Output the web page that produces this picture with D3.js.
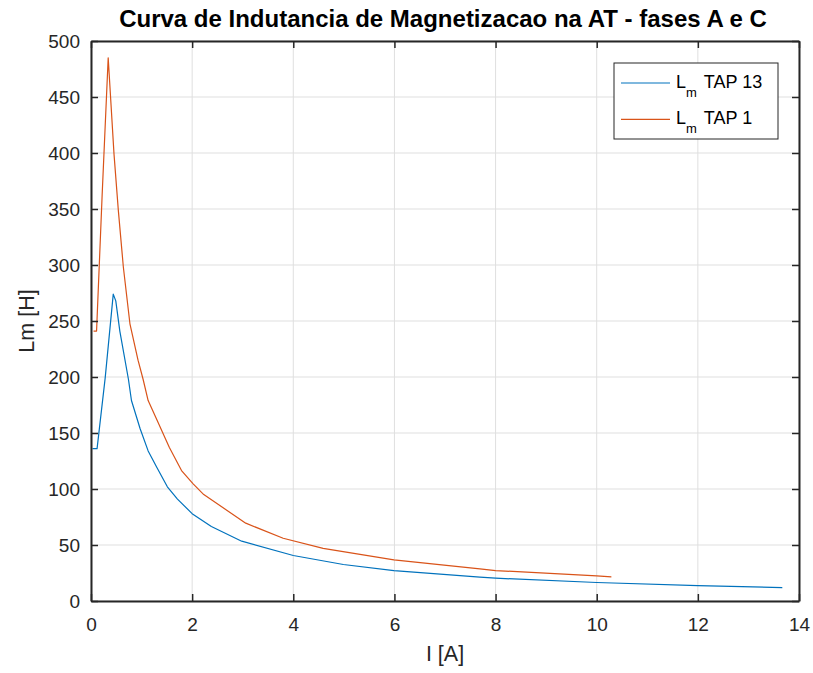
<!DOCTYPE html>
<html><head><meta charset="utf-8">
<script src="https://cdn.jsdelivr.net/npm/d3@7"></script>
<style>body{margin:0;background:#fff;}svg{display:block;font-family:"Liberation Sans",Arial,sans-serif;}</style>
</head><body>
<script>
const tap13X = [0.03,0.12,0.28,0.44,0.49,0.57,0.74,0.80,0.97,1.13,1.30,1.51,1.71,2.0,2.38,2.98,4.0,4.99,5.99,7.69,8.0,10.0,12.0,13.67];
const tap13Y = [136,136,199,274,268,241,198,179,154,134,119.5,102,91,78,66.5,53.4,40.6,32.6,27.2,21.3,20.4,16.5,13.8,12];
const tap1X = [0.05,0.11,0.22,0.34,0.455,0.54,0.64,0.77,0.93,1.03,1.13,1.28,1.55,1.79,2.02,2.23,3.06,3.80,4.59,5.99,7.69,8.0,10.0,10.29];
const tap1Y = [241,241,362,485,399,349,298,247.5,215,198,179,164,137,116.5,104.6,95,69.5,56,47,36.8,28.7,27.2,22.5,21.6];
const xTicks = [0,2,4,6,8,10,12,14];
const yTicks = [0,50,100,150,200,250,300,350,400,450,500];
const seriesNames = ["TAP 13","TAP 1"];
const colors = ["#0072BD","#D95319"];

const W=813,H=673, L=91, R=799, T=41, B=601;
const svg=d3.select("body").append("svg").attr("width",W).attr("height",H);
const x=d3.scaleLinear().domain([0,14]).range([L,R]);
const y=d3.scaleLinear().domain([0,500]).range([B,T]);
const ink="#262626";
// grid
svg.append("g").selectAll("line").data(xTicks).join("line")
  .attr("x1",d=>x(d)).attr("x2",d=>x(d)).attr("y1",T).attr("y2",B)
  .attr("stroke","#dfdfdf").attr("stroke-width",1);
svg.append("g").selectAll("line").data(yTicks).join("line")
  .attr("y1",d=>y(d)).attr("y2",d=>y(d)).attr("x1",L).attr("x2",R)
  .attr("stroke","#dfdfdf").attr("stroke-width",1);
// lines
const line=d3.line().x(d=>x(d[0])).y(d=>y(d[1]));
const data=[d3.zip(tap13X,tap13Y), d3.zip(tap1X,tap1Y)];
data.forEach((d,i)=>svg.append("path").datum(d).attr("d",line).attr("fill","none")
  .attr("stroke",colors[i]).attr("stroke-width",1.2).attr("stroke-linejoin","round"));
// axes
const tl=7;
const gb=svg.append("g").attr("transform",`translate(0,${B})`).call(d3.axisBottom(x).tickValues(xTicks).tickSizeInner(-tl).tickSizeOuter(0).tickPadding(17));
const gt=svg.append("g").attr("transform",`translate(0,${T})`).call(d3.axisTop(x).tickValues(xTicks).tickSizeInner(-tl).tickSizeOuter(0).tickFormat(""));
const gl=svg.append("g").attr("transform",`translate(${L},0)`).call(d3.axisLeft(y).tickValues(yTicks).tickSizeInner(-tl).tickSizeOuter(0).tickPadding(11));
const gr=svg.append("g").attr("transform",`translate(${R},0)`).call(d3.axisRight(y).tickValues(yTicks).tickSizeInner(-tl).tickSizeOuter(0).tickFormat(""));
[gb,gt,gl,gr].forEach(g=>{
  g.selectAll("path").attr("stroke",ink).attr("stroke-width",2);
  g.selectAll("line").attr("stroke",ink).attr("stroke-width",1.5);
  g.selectAll("text").attr("fill",ink).attr("font-size",19).attr("font-family","Liberation Sans, Arial, sans-serif");
});
// legend
const lg=svg.append("g");
lg.append("rect").attr("x",614).attr("y",63).attr("width",164).attr("height",76)
  .attr("fill","#fff").attr("stroke","#262626").attr("stroke-width",1);
seriesNames.forEach((n,i)=>{
  const yy=83+i*36.3;
  lg.append("line").attr("x1",621).attr("x2",670).attr("y1",yy).attr("y2",yy).attr("stroke",colors[i]).attr("stroke-width",1.2);
  const t=lg.append("text").attr("x",676).attr("y",yy+4.8).attr("font-size",18).attr("fill","#000");
  t.append("tspan").text("L");
  t.append("tspan").attr("font-size",13).attr("dy",9).text("m");
  t.append("tspan").attr("dy",-9).attr("dx",7).text(n);
});
// title & labels
svg.append("text").attr("x",(L+R)/2 - 2).attr("y",27).attr("text-anchor","middle")
  .attr("font-size",24).attr("font-weight","bold").attr("fill","#000")
  .text("Curva de Indutancia de Magnetizacao na AT - fases A e C");
svg.append("text").attr("x",(L+R)/2).attr("y",661).attr("text-anchor","middle")
  .attr("font-size",21.5).attr("fill",ink).text("I [A]");
svg.append("text").attr("transform",`translate(34,${(T+B)/2}) rotate(-90)`).attr("text-anchor","middle")
  .attr("font-size",21.5).attr("fill",ink).text("Lm [H]");
</script>
</body></html>
